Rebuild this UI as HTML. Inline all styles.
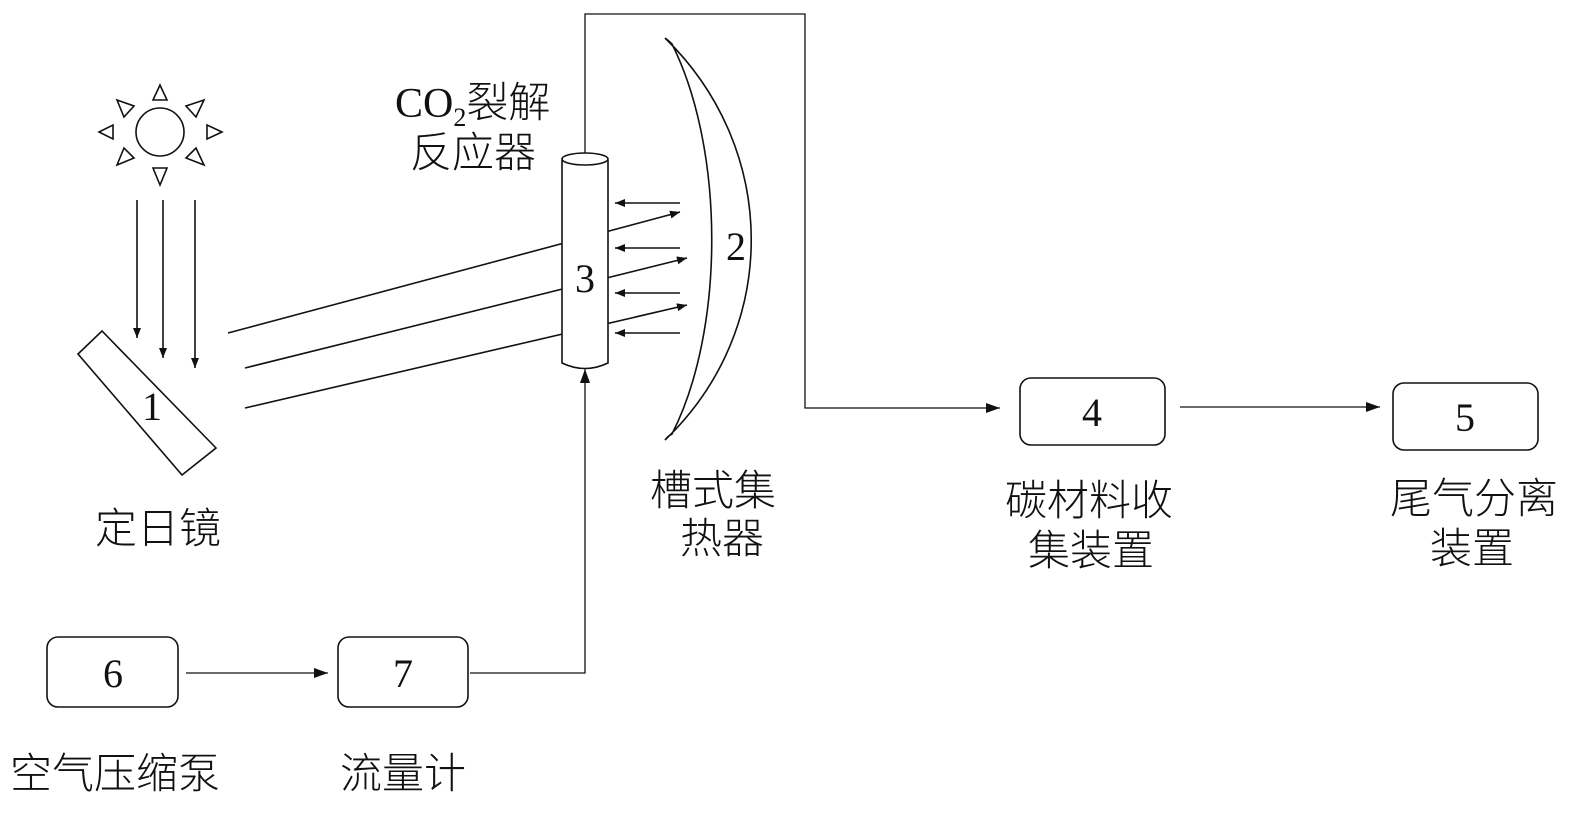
<!DOCTYPE html>
<html><head><meta charset="utf-8"><style>
html,body{margin:0;padding:0;background:#fff;}
svg{display:block;}
text{font-family:"Liberation Serif","Noto Sans CJK SC",serif;fill:#111;}
.cn{font-family:"Liberation Serif","Noto Sans CJK SC",sans-serif;font-size:42px;font-weight:300;}
.num{font-size:40px;}
</style></head><body>
<svg width="1587" height="814" viewBox="0 0 1587 814" xmlns="http://www.w3.org/2000/svg">
<defs>
<marker id="ah" markerWidth="10" markerHeight="8" refX="10" refY="4" orient="auto" markerUnits="userSpaceOnUse"><path d="M0,0 L10,4 L0,8 z" fill="#111"/></marker>
<marker id="ab" markerWidth="14" markerHeight="10" refX="14" refY="5" orient="auto" markerUnits="userSpaceOnUse"><path d="M0,0 L14,5 L0,10 z" fill="#111"/></marker>
</defs>
<g stroke="#111" stroke-width="1.6" fill="none">
<circle cx="160" cy="132" r="24"/>
<path d="M160,85 L153,100 L167,100 z"/>
<path d="M160,185 L153,168 L167,168 z"/>
<path d="M99,132 L113,125 L113,139 z"/>
<path d="M222,132 L207,125 L207,139 z"/>
<path d="M117,100 L134,106 L124,117 z"/>
<path d="M204,100 L186,106 L196,117 z"/>
<path d="M117,165 L134,158 L124,148 z"/>
<path d="M204,165 L186,158 L196,148 z"/>
<line x1="137" y1="200" x2="137" y2="338" marker-end="url(#ah)"/>
<line x1="163" y1="200" x2="163" y2="358" marker-end="url(#ah)"/>
<line x1="195" y1="200" x2="195" y2="368" marker-end="url(#ah)"/>
<path d="M78,354 L102,331 L216,448 L182,475 z"/>
<line x1="228" y1="333" x2="680" y2="212" marker-end="url(#ah)"/>
<line x1="245" y1="368" x2="687" y2="258" marker-end="url(#ah)"/>
<line x1="245" y1="408" x2="687" y2="305" marker-end="url(#ah)"/>
<line x1="680" y1="203" x2="615" y2="203" marker-end="url(#ah)"/>
<line x1="680" y1="248" x2="615" y2="248" marker-end="url(#ah)"/>
<line x1="680" y1="293" x2="615" y2="293" marker-end="url(#ah)"/>
<line x1="680" y1="333" x2="615" y2="333" marker-end="url(#ah)"/>
<path d="M562,160 L562,363 Q585,374 608,363 L608,160" fill="#fff"/>
<ellipse cx="585" cy="159" rx="23" ry="6" fill="#fff"/>
<path d="M665,38 C780,150 780,330 665,440 Q668,436 672,434 C725,330 725,150 672,44 Q668,40 665,38 z"/>
<polyline points="585,153 585,14 805,14 805,408 1000,408" marker-end="url(#ab)" stroke-width="1.3"/>
<line x1="1180" y1="407" x2="1380" y2="407" marker-end="url(#ab)" stroke-width="1.3"/>
<line x1="186" y1="673" x2="328" y2="673" marker-end="url(#ab)" stroke-width="1.3"/>
<polyline points="470,673 585,673 585,369" marker-end="url(#ab)" stroke-width="1.3"/>
<rect x="1020" y="378" width="145" height="67" rx="11"/>
<rect x="1393" y="383" width="145" height="67" rx="11"/>
<rect x="47" y="637" width="131" height="70" rx="11"/>
<rect x="338" y="637" width="130" height="70" rx="11"/>
</g>
<text class="num" x="152" y="420" text-anchor="middle">1</text>
<text class="num" x="736" y="260" text-anchor="middle">2</text>
<text class="num" x="585" y="292" text-anchor="middle">3</text>
<text class="num" x="1092" y="426" text-anchor="middle">4</text>
<text class="num" x="1465" y="431" text-anchor="middle">5</text>
<text class="num" x="113" y="687" text-anchor="middle">6</text>
<text class="num" x="403" y="687" text-anchor="middle">7</text>
<text class="cn" x="395" y="117">CO<tspan font-size="26" dy="9">2</tspan><tspan dy="-9">裂解</tspan></text>
<text class="cn" x="410" y="167">反应器</text>
<text class="cn" x="95" y="543">定日镜</text>
<text class="cn" x="650" y="505">槽式集</text>
<text class="cn" x="680" y="553">热器</text>
<text class="cn" x="1005" y="515">碳材料收</text>
<text class="cn" x="1028" y="565">集装置</text>
<text class="cn" x="1390" y="513">尾气分离</text>
<text class="cn" x="1430" y="563">装置</text>
<text class="cn" x="10" y="788">空气压缩泵</text>
<text class="cn" x="340" y="788">流量计</text>
</svg>
</body></html>
